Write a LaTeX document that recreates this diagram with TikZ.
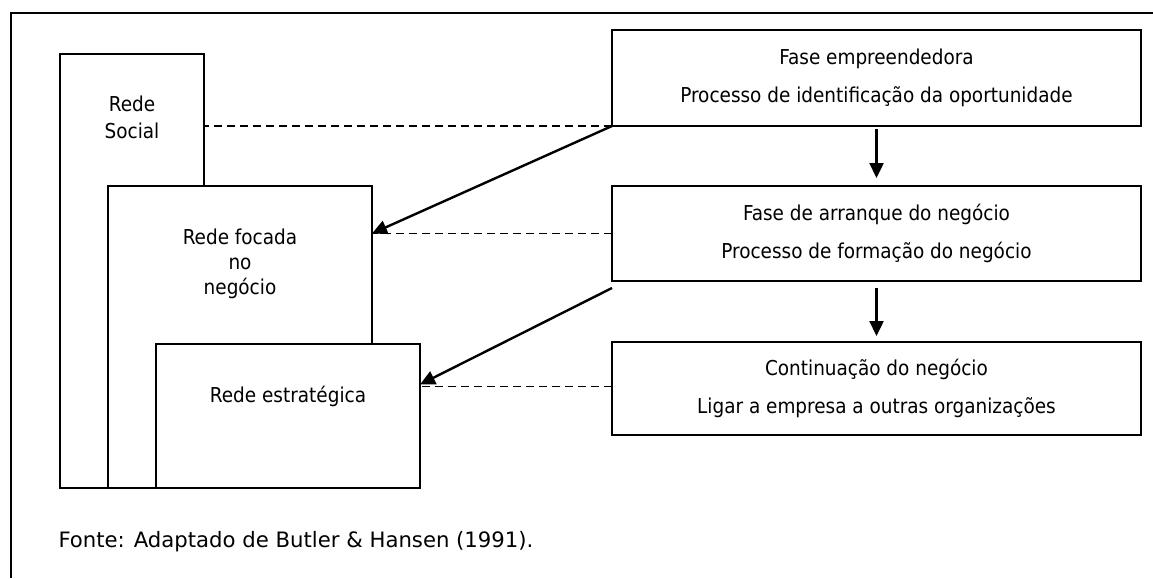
\documentclass[tikz,border=0pt]{standalone}
\usepackage{fontspec}
\setmainfont{DejaVu Sans Condensed}
\newfontfamily\captionface{DejaVu Sans}
\usetikzlibrary{arrows.meta,calc}
\begin{document}
\begin{tikzpicture}[x=1pt,y=-1pt,
  every node/.style={font=\fontsize{20.5}{27}\selectfont},
  netbox/.style={draw, line width=2pt, fill=white, inner sep=0pt, outer sep=0pt, anchor=north west},
  phasebox/.style={netbox, minimum width=529pt, align=center,
    font=\fontsize{20.5}{38}\selectfont},
  linkline/.style={line width=1.8pt, dash pattern=on 8pt off 5pt},
  flow/.style={line width=2.4pt, -{Triangle[length=15pt,width=14pt]}},
  caption/.style={anchor=base west, font=\captionface\fontsize{21.2}{24}\selectfont}]
\useasboundingbox (0,0) rectangle (1153,578);

% frame of the figure
\draw[line width=2pt] (1153,13) -- (11,13) -- (11,578);

% nested networks
\node[netbox, minimum width=144pt, minimum height=434pt] (social) at (60,54) {};
\node[netbox, minimum width=264pt, minimum height=302pt] (focada) at (108,186) {};
\node[netbox, minimum width=264pt, minimum height=144pt] (estrat) at (156,344) {};

\node[align=center] (socialtxt) at (132,117) {Rede\\Social};
\node[align=center, font=\fontsize{20.5}{25}\selectfont] (focadatxt) at (240,264) {Rede focada\\no\\negócio};
\node (estrattxt) at (288,396) {Rede estratégica};

% phases
\node[phasebox, minimum height=96pt] (f1) at (612,30)
  {Fase empreendedora\\Processo de identificação da oportunidade};
\node[phasebox, minimum height=95pt] (f2) at (612,186)
  {Fase de arranque do negócio\\Processo de formação do negócio};
\node[phasebox, minimum height=93pt] (f3) at (612,342)
  {Continuação do negócio\\Ligar a empresa a outras organizações};

% links between phases and networks
\draw[linkline] (f1.south west) -- (f1.south west -| social.east);
\draw[linkline] (f2.west) -- (f2.west -| focada.east);
\draw[linkline] ($(f3.west)+(0,-2)$) -- ($(f3.west -| estrat.east)+(0,-2)$);

\draw[flow] (f1.south west) -- (f2.west -| focada.east);
\draw[flow] ($(f2.south west)+(0,7)$) -- ($(f3.west -| estrat.east)+(0,-4)$);

\draw[flow] ($(f1.south)+(0,3)$) -- ($(f2.north)+(0,-8)$);
\draw[flow] ($(f2.south)+(0,7)$) -- ($(f3.north)+(0,-6)$);

\node[caption] (fonte) at (55,547) {Fonte: Adaptado de Butler \& Hansen (1991).};
\end{tikzpicture}
\end{document}
